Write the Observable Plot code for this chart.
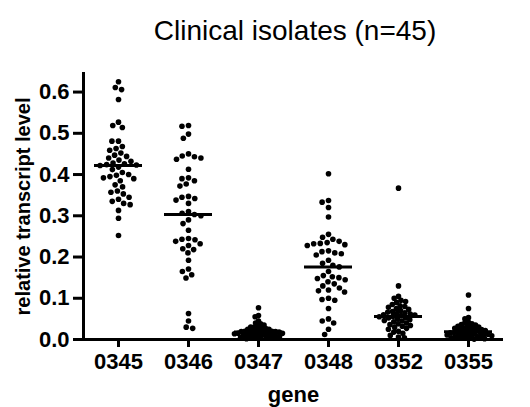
<!DOCTYPE html>
<html>
<head>
<meta charset="utf-8">
<script src="https://cdn.jsdelivr.net/npm/d3@7"></script>
<script src="https://cdn.jsdelivr.net/npm/@observablehq/plot@0.6"></script>
<style>
  html, body { margin: 0; padding: 0; background: #fff; }
  #title {
    box-sizing: border-box;
    width: 530px; height: 62px;
    padding-top: 17px; padding-left: 60px;
    text-align: center;
    font-family: "Liberation Sans", Arial, sans-serif;
    font-size: 28px; line-height: 28px; color: #000;
  }
</style>
</head>
<body>
<div id="title">Clinical isolates (n=45)</div>
<div id="chart"></div>
<script>
const genes = ["0345", "0346", "0347", "0348", "0352", "0355"];
const yTicks = [0, 0.1, 0.2, 0.3, 0.4, 0.5, 0.6];

const v0345 = [0.625, 0.611, 0.606, 0.582, 0.527, 0.519, 0.514, 0.481, 0.481, 0.468,
  0.463, 0.459, 0.452, 0.447, 0.444, 0.44, 0.435, 0.432, 0.428, 0.426,
  0.424, 0.423, 0.422, 0.418, 0.412, 0.405, 0.40, 0.398, 0.395, 0.392,
  0.39, 0.385, 0.375, 0.37, 0.36, 0.357, 0.353, 0.345, 0.34, 0.335,
  0.33, 0.327, 0.313, 0.294, 0.252];
const v0346 = [0.519, 0.517, 0.498, 0.488, 0.45, 0.445, 0.443, 0.44, 0.437, 0.413,
  0.392, 0.39, 0.385, 0.377, 0.372, 0.347, 0.345, 0.342, 0.338, 0.33,
  0.31, 0.306, 0.303, 0.30, 0.29, 0.281, 0.265, 0.245, 0.243, 0.242,
  0.238, 0.232, 0.228, 0.22, 0.218, 0.21, 0.192, 0.171, 0.165, 0.157,
  0.149, 0.063, 0.045, 0.03, 0.027];
const v0347 = [0.077, 0.058, 0.055, 0.045, 0.04, 0.038, 0.035, 0.033, 0.03, 0.03,
  0.028, 0.027, 0.025, 0.025, 0.023, 0.022, 0.021, 0.02, 0.02, 0.019,
  0.019, 0.018, 0.018, 0.017, 0.016, 0.016, 0.015, 0.015, 0.014, 0.013,
  0.012, 0.012, 0.011, 0.01, 0.01, 0.009, 0.008, 0.008, 0.007, 0.006,
  0.005, 0.005, 0.004, 0.003, 0.002];
const v0348 = [0.402, 0.337, 0.333, 0.32, 0.297, 0.255, 0.248, 0.243, 0.238, 0.235,
  0.233, 0.232, 0.23, 0.228, 0.215, 0.213, 0.21, 0.208, 0.205, 0.192,
  0.185, 0.18, 0.176, 0.165, 0.155, 0.152, 0.15, 0.148, 0.145, 0.14,
  0.135, 0.13, 0.125, 0.12, 0.118, 0.115, 0.1, 0.097, 0.095, 0.075,
  0.05, 0.045, 0.04, 0.025, 0.012];
const v0352 = [0.367, 0.13, 0.105, 0.1, 0.095, 0.092, 0.09, 0.085, 0.082, 0.08,
  0.078, 0.075, 0.073, 0.07, 0.068, 0.066, 0.065, 0.063, 0.062, 0.06,
  0.059, 0.058, 0.056, 0.055, 0.053, 0.052, 0.05, 0.048, 0.046, 0.045,
  0.043, 0.04, 0.038, 0.036, 0.034, 0.032, 0.03, 0.027, 0.025, 0.02,
  0.018, 0.015, 0.01, 0.006, 0.004];
const v0355 = [0.108, 0.075, 0.053, 0.05, 0.042, 0.04, 0.038, 0.036, 0.035, 0.033,
  0.032, 0.03, 0.029, 0.028, 0.027, 0.026, 0.025, 0.024, 0.023, 0.022,
  0.021, 0.02, 0.019, 0.018, 0.017, 0.016, 0.015, 0.015, 0.014, 0.013,
  0.012, 0.012, 0.011, 0.01, 0.009, 0.008, 0.008, 0.007, 0.006, 0.005,
  0.005, 0.004, 0.003, 0.002, 0.001];

const series = [v0345, v0346, v0347, v0348, v0352, v0355];
const data = genes.flatMap((g, i) => series[i].map(v => ({gene: g, value: v})));

// swarm spacing radius per group: the low, dense groups overlap as in the original
const swarmR = {"0345": 2.8, "0346": 2.8, "0347": 1.3, "0348": 2.8, "0352": 1.9, "0355": 1.4};
const DOT_R = 2.8;

const font = "Liberation Sans, Arial, sans-serif";

const dotMarks = genes.map(g =>
  Plot.dot(data.filter(d => d.gene === g),
    Plot.dodgeX("middle", {fx: "gene", y: "value", r: swarmR[g], padding: 0.2,
      fill: "#000", stroke: "#000", strokeWidth: 2 * (DOT_R - swarmR[g])}))
);

const chart = Plot.plot({
  width: 530,
  height: 345,
  marginLeft: 83,
  marginRight: 27,
  marginTop: 11,
  marginBottom: 68,
  style: {fontFamily: font, fontWeight: "bold", fontSize: "22px", color: "#000", background: "#fff"},
  fx: {domain: genes, padding: 0},
  y: {domain: [0, 0.645]},
  marks: [
    Plot.axisY({ticks: yTicks, tickFormat: ".1f", tickSize: 10, tickPadding: 4, strokeWidth: 3,
      fontSize: 22, fontWeight: "bold", label: null}),
    Plot.axisY({ticks: [], tickSize: 0, fontSize: 20, fontWeight: "bold",
      label: "relative transcript level", labelAnchor: "center", labelArrow: "none", labelOffset: 68}),
    Plot.axisFx({anchor: "bottom", tickSize: 8, tickPadding: 6, strokeWidth: 3,
      fontSize: 22, fontWeight: "bold", label: "gene", labelAnchor: "center", labelArrow: "none", labelOffset: 62}),
    Plot.frame({anchor: "left", facetAnchor: "left", strokeWidth: 3}),
    Plot.ruleY([0], {strokeWidth: 3}),
    ...dotMarks,
    Plot.tickY(data, Plot.groupZ({y: "median"}, {fx: "gene", y: "value", strokeWidth: 3, insetLeft: 11, insetRight: 11}))
  ]
});
document.getElementById("chart").appendChild(chart);
</script>
</body>
</html>
